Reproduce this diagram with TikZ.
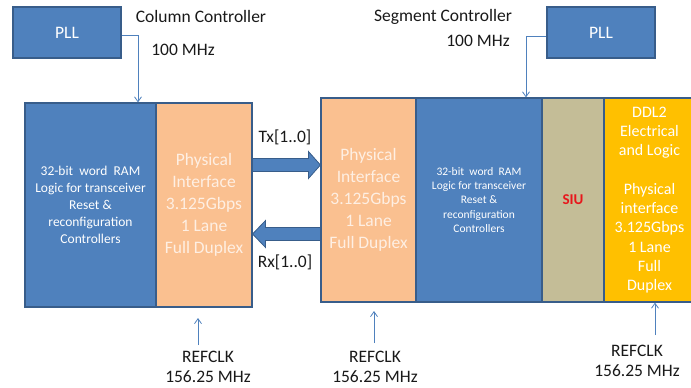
\documentclass[tikz,border=0pt]{standalone}
\usepackage{fontspec}
\setmainfont{Carlito}
\usetikzlibrary{arrows.meta,calc}
\definecolor{bluefill}{HTML}{4F81BD}
\definecolor{blueedge}{HTML}{385D8A}
\definecolor{orangefill}{HTML}{FAC090}
\definecolor{tanfill}{HTML}{C4BD97}
\definecolor{yellowfill}{HTML}{FFC000}
\definecolor{siured}{HTML}{E8161B}
\tikzset{
  blk/.style={rectangle, draw=blueedge, line width=1.1pt, inner sep=0pt, align=center},
  bluebox/.style={blk, fill=bluefill, text=white},
  orangebox/.style={blk, fill=orangefill, text=white!75!orangefill, font=\fontsize{17.5}{22}\selectfont},
  lbl/.style={inner sep=0pt, align=center, text=black!90, font=\fontsize{17.5}{20}\selectfont},
  clk/.style={draw=bluefill, line width=0.8pt, -{Straight Barb[length=5pt,width=7pt]}},
  bigarrow/.style={fill=bluefill, draw=blueedge, line width=0.8pt, line join=miter}
}
\begin{document}
\begin{tikzpicture}[x=1pt,y=-1pt]
\useasboundingbox (0,0) rectangle (691,388);
% PLLs
\node[bluebox, minimum width=108pt, minimum height=51pt, font=\fontsize{17.5}{20}\selectfont] (pll1) at (67,32.5) {PLL};
\node[bluebox, minimum width=108pt, minimum height=51pt, font=\fontsize{17.5}{20}\selectfont] (pll2) at (601,32.5) {PLL};
% left (column controller) box
\node[bluebox, minimum width=131pt, minimum height=204pt, font=\fontsize{13.5}{17}\selectfont] (lb) at (90.5,205)
  {32-bit\ \ word\ \ RAM\\Logic for transceiver\\Reset \&\\reconfiguration\\Controllers};
\node[orangebox, minimum width=96pt, minimum height=204pt] (lo) at (204,205)
  {Physical\\Interface\\3.125Gbps\\1 Lane\\Full Duplex};
% right (segment controller) box
\node[orangebox, minimum width=95pt, minimum height=204pt] (ro) at (368.5,200)
  {Physical\\Interface\\3.125Gbps\\1 Lane\\Full Duplex};
\node[bluebox, minimum width=126pt, minimum height=204pt, font=\fontsize{11.5}{14.3}\selectfont] (rb) at (479,200)
  {32-bit\ \ word\ \ RAM\\Logic for transceiver\\Reset \&\\reconfiguration\\Controllers};
\node[blk, fill=tanfill, minimum width=62pt, minimum height=204pt, text=siured, font=\fontsize{15}{18}\selectfont\bfseries] (siu) at (573,200) {SIU};
\node[blk, fill=yellowfill, minimum width=91pt, minimum height=204pt, text=white, font=\fontsize{16}{19.3}\selectfont] (ddl) at (649.5,200)
  {DDL2\\Electrical\\and Logic\\[19.3pt]Physical\\interface\\3.125Gbps\\1 Lane\\Full\\Duplex};
% labels
\node[lbl] (cc) at (201,16) {Column Controller};
\node[lbl] (f1) at (183,50) {100 MHz};
\node[lbl] (sc) at (443,17) {Segment Controller};
\node[lbl] (f2) at (478,41) {100 MHz};
\node[lbl] (tx) at (285,137) {Tx[1..0]};
\node[lbl] (rx) at (285,262) {Rx[1..0]};
\node[lbl] (r1) at (208,367) {REFCLK\\156.25 MHz};
\node[lbl] (r2) at (375,367) {REFCLK\\156.25 MHz};
\node[lbl] (r3) at (637,361) {REFCLK\\156.25 MHz};
% PLL clock connectors
\draw[clk] (pll1.east |- 0,35) -| (lb.north -| 138,0);
\draw[clk] (pll2.west |- 0,36) -| (rb.north -| 526,0);
% REFCLK connectors
\coordinate (c1) at (198,345);
\coordinate (c2) at (374,343);
\coordinate (c3) at (655,335);
\draw[clk] (c1) -- (198,318);
\draw[clk] (c2) -- (374,311);
\draw[clk] (c3) -- (ddl.south -| 655,0);
% Tx / Rx block arrows
\coordinate (txs) at (lo.east |- 0,165);
\coordinate (txe) at (ro.west |- 0,165);
\draw[bigarrow] ($(txs)+(0,-6.5)$) -- ($(txe)+(-12,-6.5)$) -- ($(txe)+(-12,-13.5)$) -- (txe)
  -- ($(txe)+(-12,13.5)$) -- ($(txe)+(-12,6.5)$) -- ($(txs)+(0,6.5)$) -- cycle;
\coordinate (rxs) at (ro.west |- 0,234);
\coordinate (rxe) at (lo.east |- 0,234);
\draw[bigarrow] ($(rxs)+(0,-6.5)$) -- ($(rxe)+(13,-6.5)$) -- ($(rxe)+(13,-13.5)$) -- (rxe)
  -- ($(rxe)+(13,13.5)$) -- ($(rxe)+(13,6.5)$) -- ($(rxs)+(0,6.5)$) -- cycle;
\end{tikzpicture}
\end{document}
